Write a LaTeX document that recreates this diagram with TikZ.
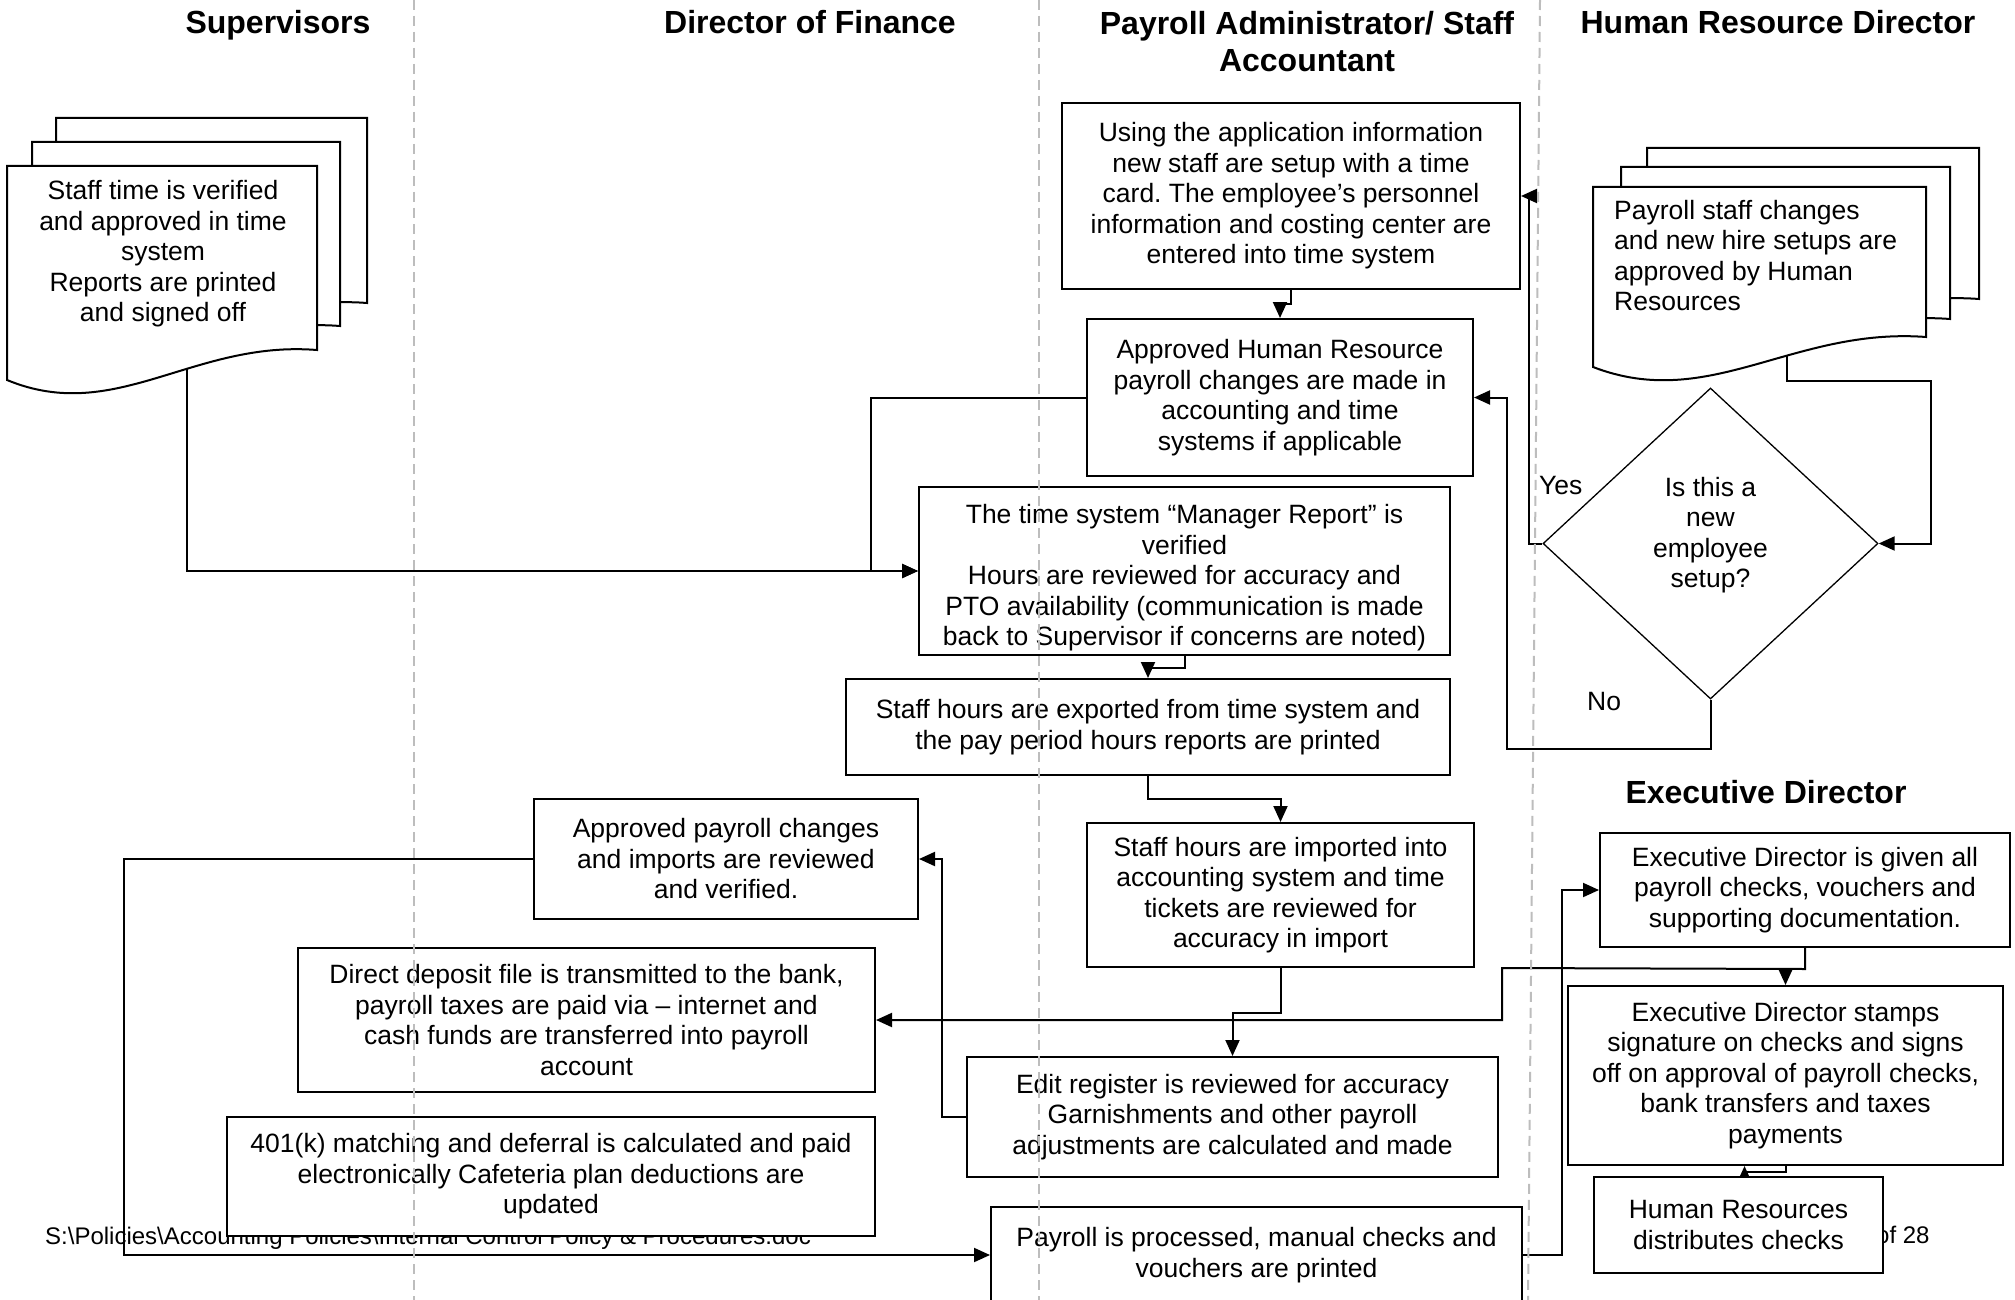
\documentclass[tikz,border=0pt]{standalone}
\usepackage{fontspec}
\setmainfont{Liberation Sans}
\usetikzlibrary{arrows.meta,shapes.geometric}
\pgfdeclarelayer{bglayer}
\pgfdeclarelayer{fglayer}
\pgfsetlayers{bglayer,main,fglayer}
\frenchspacing
\newcommand{\bodyfont}{\fontsize{26.5}{30.5}\selectfont}
\newcommand{\headfont}{\fontsize{32}{37}\selectfont\bfseries}
\newcommand{\docsheet}[4]{%
  \path[docline] (#1,{#4+30}) -- (#1,#2) -- (#3,#2) -- (#3,#4)
    .. controls ({#1+0.6*(#3-#1)},{#4-10}) and ({#1+0.35*(#3-#1)},{#4+75}) .. (#1,{#4+30}) -- cycle;}
\begin{document}
\begin{tikzpicture}[x=1pt,y=-1pt,
  box/.style={draw, fill=white, line width=2pt, align=center, inner sep=0pt, font=\bodyfont},
  docline/.style={draw, fill=white, line width=2pt},
  arr/.style={line width=2pt, -{Triangle[length=16pt,width=14pt]}},
  lane/.style={draw=black!26, line width=2pt, dash pattern=on 10pt off 6pt},
  head/.style={font=\headfont, inner sep=0pt, align=center},
  txt/.style={font=\bodyfont, inner sep=0pt}]
\begin{pgfonlayer}{bglayer}
\fill[white] (0,0) rectangle (2015,1300);
\end{pgfonlayer}
\useasboundingbox (0,0) rectangle (2015,1300);

% headers
\node[head, anchor=base] (hsup) at (278,34) {Supervisors};
\node[head, anchor=base] (hfin) at (810,34) {Director of Finance};
\node[head, anchor=north] (hpay) at (1307,11) {Payroll Administrator/ Staff\\Accountant};
\node[head, anchor=base] (hhr) at (1778,34) {Human Resource Director};
\node[head, anchor=base] (hexe) at (1766,803) {Executive Director};

% supervisors multi-document
\docsheet{56}{118}{367}{303}
\docsheet{32}{142}{340}{326}
\docsheet{7}{166}{317}{350}
\node[txt, align=center] (supdoc) at (163,254) {Staff time is verified\\and approved in time\\system\\Reports are printed\\and signed off};
\coordinate (supbottom) at (187,360);

% HR multi-document
\docsheet{1647}{148}{1979}{299}
\docsheet{1621}{167}{1950}{319}
\docsheet{1593}{187}{1926}{337}
\node[txt, align=left, anchor=west] (hrdoc) at (1614,255.5) {Payroll staff changes\\and new hire setups are\\approved by Human\\Resources};
\coordinate (hrbottom) at (1787,350);

% decision
\node[draw, shape=diamond, minimum width=335, minimum height=311, line width=1.3pt, inner sep=0pt] (dia) at (1710.5,543.5) {};
\node[txt, align=center] (diatext) at (1710.5,535) {Is this a\\new\\employee\\setup?};
\node[txt, anchor=base west] (yes) at (1539,494) {Yes};
\node[txt, anchor=base west] (no) at (1587,710) {No};

% boxes
\node[box, minimum width=458, minimum height=186] (app) at (1291,196) {Using the application information\\new staff are setup with a time\\card. The employee’s personnel\\information and costing center are\\entered into time system};
\node[box, minimum width=386, minimum height=157] (hrchg) at (1280,397.5) {Approved Human Resource\\payroll changes are made in\\accounting and time\\systems if applicable};
\node[box, minimum width=531, minimum height=168] (mgr) at (1184.5,571) {\rule{0pt}{33pt}The time system “Manager Report” is\\verified\\Hours are reviewed for accuracy and\\PTO availability (communication is made\\back to Supervisor if concerns are noted)};
\node[box, minimum width=604, minimum height=96] (exp) at (1148,727) {Staff hours are exported from time system and\\the pay period hours reports are printed};
\node[box, minimum width=387, minimum height=144] (imp) at (1280.5,895) {Staff hours are imported into\\accounting system and time\\tickets are reviewed for\\accuracy in import};
\node[box, minimum width=531, minimum height=120] (edit) at (1232.5,1117) {Edit register is reviewed for accuracy\\Garnishments and other payroll\\adjustments are calculated and made};
\node[box, minimum width=384, minimum height=120] (appr) at (726,859) {Approved payroll changes\\and imports are reviewed\\and verified.};
\node[box, minimum width=577, minimum height=144] (dd) at (586.5,1020) {Direct deposit file is transmitted to the bank,\\payroll taxes are paid via – internet and\\cash funds are transferred into payroll\\account};
\node[box, minimum width=648, minimum height=119] (kplan) at (551,1176.5) {401(k) matching and deferral is calculated and paid\\electronically Cafeteria plan deductions are\\updated};
\node[box, minimum width=531, minimum height=96] (proc) at (1256.5,1255) {Payroll is processed, manual checks and\\vouchers are printed};
\node[box, minimum width=410, minimum height=114] (given) at (1805,890) {Executive Director is given all\\payroll checks, vouchers and\\supporting documentation.};
\node[box, minimum width=435, minimum height=179] (stamps) at (1785.5,1075.5) {Executive Director stamps\\signature on checks and signs\\off on approval of payroll checks,\\bank transfers and taxes\\payments};
\node[box, minimum width=289, minimum height=96] (hrdist) at (1738.5,1225) {Human Resources\\distributes checks};

\begin{pgfonlayer}{bglayer}
\node[anchor=base west, inner sep=0pt, font=\fontsize{24}{28}\selectfont] (footer) at (45,1244) {S:\textbackslash Policies\textbackslash Accounting Policies\textbackslash Internal Control Policy \& Procedures.doc};
\node[anchor=base west, inner sep=0pt, font=\fontsize{24}{28}\selectfont] (pagenum) at (1876,1243) {of 28};
% connectors
\draw[arr] (supbottom) |- (mgr.west);
\draw[arr] (hrchg.west) -- (871,397.5) |- (mgr.west);
\draw[arr] (app.south) -- ++(0,14) -| (hrchg.north);
\draw[arr] (dia.west) -- ++(-13,0) |- (app.east);
\draw[arr] (dia.south) -- ++(0,49) -| (1507,397.5) -- (hrchg.east);
\draw[arr] (hrbottom) |- (1931,381) |- (dia.east);
\draw[arr] (mgr.south) -- ++(0,12) -| (exp.north);
\draw[arr] (exp.south) -- ++(0,23) -| (imp.north);
\draw[arr] (imp.south) -- ++(0,45) -| (edit.north);
\draw[arr] (edit.west) -- ++(-24,0) |- (appr.east);
\draw[arr] (appr.west) -- (124,859) |- (proc.west);
\draw[arr] (proc.east) -- ++(39,0) |- (given.west);
\draw[arr] (given.south) -- ++(0,21) -| (stamps.north);
\draw[arr] (given.south) -- ++(0,21) -- (1502,968) |- (dd.east);
\draw[arr] (stamps.south) -- ++(0,6) -| ([xshift=6pt]hrdist.north |- stamps.south);
\end{pgfonlayer}

\begin{pgfonlayer}{fglayer}
\draw[lane] (414,0) -- (414,1300);
\draw[lane] (1039,0) -- (1039,1300);
\draw[lane] (1540,0) -- (1528,1300);
\end{pgfonlayer}
\end{tikzpicture}
\end{document}
